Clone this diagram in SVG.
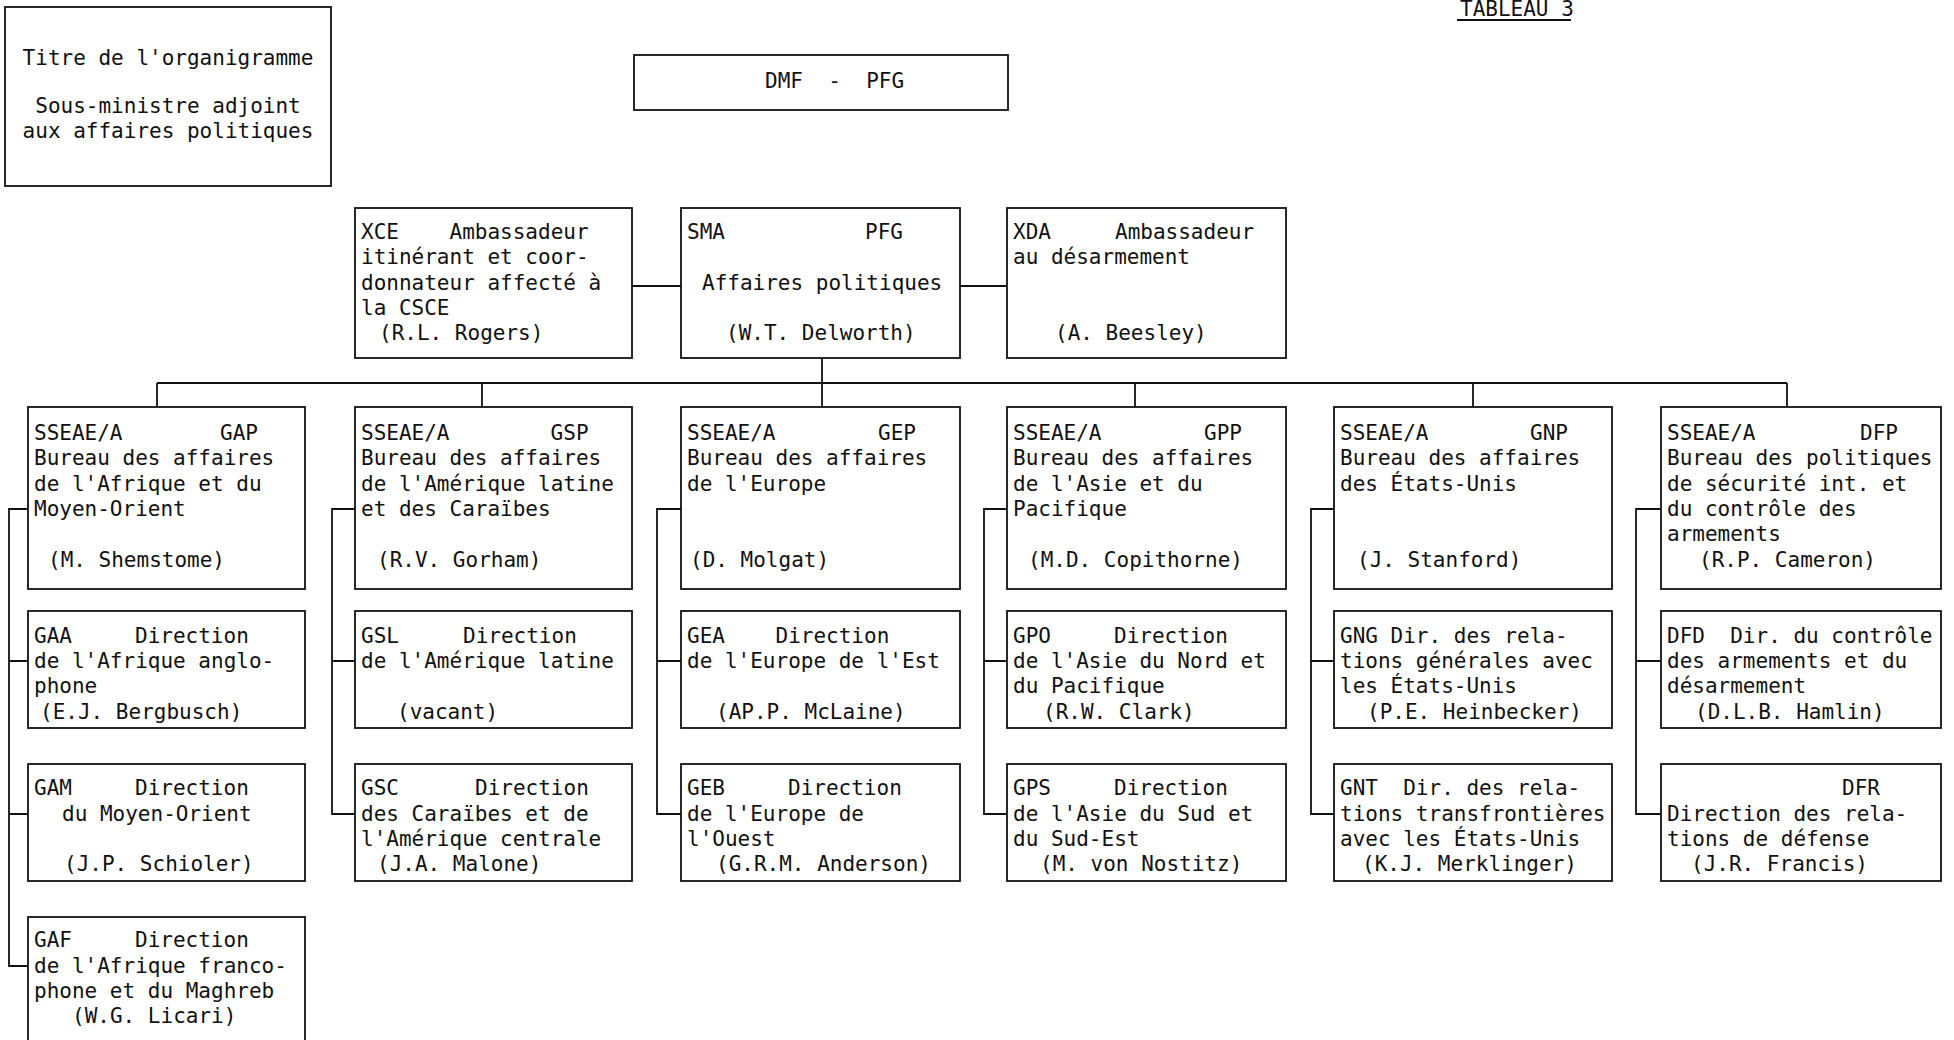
<svg xmlns="http://www.w3.org/2000/svg" width="1954" height="1040" viewBox="0 0 1954 1040">
<style>
.bg{fill:#ffffff}
.box{fill:#ffffff;stroke:#111;stroke-width:1.8}
.conn{fill:none;stroke:#111;stroke-width:1.8}
.t{font-family:"DejaVu Sans Mono","Liberation Mono",monospace;font-size:21px;fill:#111}
.c{text-anchor:middle}
</style>
<rect class="bg" x="0" y="0" width="1954" height="1040"/>
<g id="connectors">
<path class="conn" d="M632 286H681M960 286H1007M822 358V383M157 383H1787"/>
<path class="conn" d="M157 383V407M482 383V407M822 383V407M1135 383V407M1473 383V407M1787 383V407"/>
<path class="conn" d="M28 509H9V966H28M9 661H28M9 814H28"/>
<path class="conn" d="M355 509H332V814H355M332 661H355"/>
<path class="conn" d="M681 509H657V814H681M657 661H681"/>
<path class="conn" d="M1007 509H984V814H1007M984 661H1007"/>
<path class="conn" d="M1334 509H1311V814H1334M1311 661H1334"/>
<path class="conn" d="M1661 509H1636V814H1661M1636 661H1661"/>
</g>
<g id="tableau">
<text class="t" x="1460" y="16">TABLEAU 3</text>
<path class="conn" d="M1457 20H1571"/>
</g>
<g id="title">
<rect class="box" x="5" y="7" width="326" height="179"/>
<text class="t c" x="168" y="65">Titre de l'organigramme</text>
<text class="t c" x="168" y="113">Sous-ministre adjoint</text>
<text class="t c" x="168" y="138">aux affaires politiques</text>
</g>
<g id="dmf">
<rect class="box" x="634" y="55" width="374" height="55"/>
<text class="t" x="765" y="88" xml:space="preserve">DMF  -  PFG</text>
</g>
<g id="xce">
<rect class="box" x="355" y="208" width="277" height="150"/>
<text class="t" x="361" y="239">XCE</text><text class="t" x="449.5" y="239">Ambassadeur</text>
<text class="t" x="361" y="264">itinérant et coor-</text>
<text class="t" x="361" y="290">donnateur affecté à</text>
<text class="t" x="361" y="315">la CSCE</text>
<text class="t" x="379" y="340">(R.L. Rogers)</text>
</g>
<g id="sma">
<rect class="box" x="681" y="208" width="279" height="150"/>
<text class="t" x="687" y="239">SMA</text><text class="t" x="865" y="239">PFG</text>
<text class="t" x="702" y="290">Affaires politiques</text>
<text class="t" x="726" y="340">(W.T. Delworth)</text>
</g>
<g id="xda">
<rect class="box" x="1007" y="208" width="279" height="150"/>
<text class="t" x="1013" y="239">XDA</text><text class="t" x="1115" y="239">Ambassadeur</text>
<text class="t" x="1013" y="264">au désarmement</text>
<text class="t" x="1055" y="340">(A. Beesley)</text>
</g>
<g id="gap">
<rect class="box" x="28" y="407" width="277" height="182"/>
<text class="t" x="34" y="440">SSEAE/A</text><text class="t" x="220" y="440">GAP</text>
<text class="t" x="34" y="465">Bureau des affaires</text>
<text class="t" x="34" y="491">de l'Afrique et du</text>
<text class="t" x="34" y="516">Moyen-Orient</text>
<text class="t" x="48" y="567">(M. Shemstome)</text>
</g>
<g id="gsp">
<rect class="box" x="355" y="407" width="277" height="182"/>
<text class="t" x="361" y="440">SSEAE/A</text><text class="t" x="550.6" y="440">GSP</text>
<text class="t" x="361" y="465">Bureau des affaires</text>
<text class="t" x="361" y="491">de l'Amérique latine</text>
<text class="t" x="361" y="516">et des Caraïbes</text>
<text class="t" x="377" y="567">(R.V. Gorham)</text>
</g>
<g id="gep">
<rect class="box" x="681" y="407" width="279" height="182"/>
<text class="t" x="687" y="440">SSEAE/A</text><text class="t" x="878" y="440">GEP</text>
<text class="t" x="687" y="465">Bureau des affaires</text>
<text class="t" x="687" y="491">de l'Europe</text>
<text class="t" x="690" y="567">(D. Molgat)</text>
</g>
<g id="gpp">
<rect class="box" x="1007" y="407" width="279" height="182"/>
<text class="t" x="1013" y="440">SSEAE/A</text><text class="t" x="1204" y="440">GPP</text>
<text class="t" x="1013" y="465">Bureau des affaires</text>
<text class="t" x="1013" y="491">de l'Asie et du</text>
<text class="t" x="1013" y="516">Pacifique</text>
<text class="t" x="1028" y="567">(M.D. Copithorne)</text>
</g>
<g id="gnp">
<rect class="box" x="1334" y="407" width="278" height="182"/>
<text class="t" x="1340" y="440">SSEAE/A</text><text class="t" x="1530" y="440">GNP</text>
<text class="t" x="1340" y="465">Bureau des affaires</text>
<text class="t" x="1340" y="491">des États-Unis</text>
<text class="t" x="1357" y="567">(J. Stanford)</text>
</g>
<g id="dfp">
<rect class="box" x="1661" y="407" width="280" height="182"/>
<text class="t" x="1667" y="440">SSEAE/A</text><text class="t" x="1860" y="440">DFP</text>
<text class="t" x="1667" y="465">Bureau des politiques</text>
<text class="t" x="1667" y="491">de sécurité int. et</text>
<text class="t" x="1667" y="516">du contrôle des</text>
<text class="t" x="1667" y="541">armements</text>
<text class="t" x="1699" y="567">(R.P. Cameron)</text>
</g>
<g id="gaa">
<rect class="box" x="28" y="611" width="277" height="117"/>
<text class="t" x="34" y="643">GAA</text><text class="t" x="135" y="643">Direction</text>
<text class="t" x="34" y="668">de l'Afrique anglo-</text>
<text class="t" x="34" y="693">phone</text>
<text class="t" x="40" y="719">(E.J. Bergbusch)</text>
</g>
<g id="gam">
<rect class="box" x="28" y="764" width="277" height="117"/>
<text class="t" x="34" y="795">GAM</text><text class="t" x="135" y="795">Direction</text>
<text class="t" x="62" y="821">du Moyen-Orient</text>
<text class="t" x="64" y="871">(J.P. Schioler)</text>
</g>
<g id="gaf">
<rect class="box" x="28" y="917" width="277" height="130"/>
<text class="t" x="34" y="947">GAF</text><text class="t" x="135" y="947">Direction</text>
<text class="t" x="34" y="973">de l'Afrique franco-</text>
<text class="t" x="34" y="998">phone et du Maghreb</text>
<text class="t" x="72" y="1023">(W.G. Licari)</text>
</g>
<g id="gsl">
<rect class="box" x="355" y="611" width="277" height="117"/>
<text class="t" x="361" y="643">GSL</text><text class="t" x="463" y="643">Direction</text>
<text class="t" x="361" y="668">de l'Amérique latine</text>
<text class="t" x="397" y="719">(vacant)</text>
</g>
<g id="gsc">
<rect class="box" x="355" y="764" width="277" height="117"/>
<text class="t" x="361" y="795">GSC</text><text class="t" x="475" y="795">Direction</text>
<text class="t" x="361" y="821">des Caraïbes et de</text>
<text class="t" x="361" y="846">l'Amérique centrale</text>
<text class="t" x="377" y="871">(J.A. Malone)</text>
</g>
<g id="gea">
<rect class="box" x="681" y="611" width="279" height="117"/>
<text class="t" x="687" y="643">GEA</text><text class="t" x="775.5" y="643">Direction</text>
<text class="t" x="687" y="668">de l'Europe de l'Est</text>
<text class="t" x="716" y="719">(AP.P. McLaine)</text>
</g>
<g id="geb">
<rect class="box" x="681" y="764" width="279" height="117"/>
<text class="t" x="687" y="795">GEB</text><text class="t" x="788" y="795">Direction</text>
<text class="t" x="687" y="821">de l'Europe de</text>
<text class="t" x="687" y="846">l'Ouest</text>
<text class="t" x="716" y="871">(G.R.M. Anderson)</text>
</g>
<g id="gpo">
<rect class="box" x="1007" y="611" width="279" height="117"/>
<text class="t" x="1013" y="643">GPO</text><text class="t" x="1114" y="643">Direction</text>
<text class="t" x="1013" y="668">de l'Asie du Nord et</text>
<text class="t" x="1013" y="693">du Pacifique</text>
<text class="t" x="1043" y="719">(R.W. Clark)</text>
</g>
<g id="gps">
<rect class="box" x="1007" y="764" width="279" height="117"/>
<text class="t" x="1013" y="795">GPS</text><text class="t" x="1114" y="795">Direction</text>
<text class="t" x="1013" y="821">de l'Asie du Sud et</text>
<text class="t" x="1013" y="846">du Sud-Est</text>
<text class="t" x="1040" y="871">(M. von Nostitz)</text>
</g>
<g id="gng">
<rect class="box" x="1334" y="611" width="278" height="117"/>
<text class="t" x="1340" y="643">GNG Dir. des rela-</text>
<text class="t" x="1340" y="668">tions générales avec</text>
<text class="t" x="1340" y="693">les États-Unis</text>
<text class="t" x="1367" y="719">(P.E. Heinbecker)</text>
</g>
<g id="gnt">
<rect class="box" x="1334" y="764" width="278" height="117"/>
<text class="t" x="1340" y="795" xml:space="preserve">GNT  Dir. des rela-</text>
<text class="t" x="1340" y="821">tions transfrontières</text>
<text class="t" x="1340" y="846">avec les États-Unis</text>
<text class="t" x="1362" y="871">(K.J. Merklinger)</text>
</g>
<g id="dfd">
<rect class="box" x="1661" y="611" width="280" height="117"/>
<text class="t" x="1667" y="643" xml:space="preserve">DFD  Dir. du contrôle</text>
<text class="t" x="1667" y="668">des armements et du</text>
<text class="t" x="1667" y="693">désarmement</text>
<text class="t" x="1695" y="719">(D.L.B. Hamlin)</text>
</g>
<g id="dfr">
<rect class="box" x="1661" y="764" width="280" height="117"/>
<text class="t" x="1842" y="795">DFR</text>
<text class="t" x="1667" y="821">Direction des rela-</text>
<text class="t" x="1667" y="846">tions de défense</text>
<text class="t" x="1691" y="871">(J.R. Francis)</text>
</g>
</svg>
